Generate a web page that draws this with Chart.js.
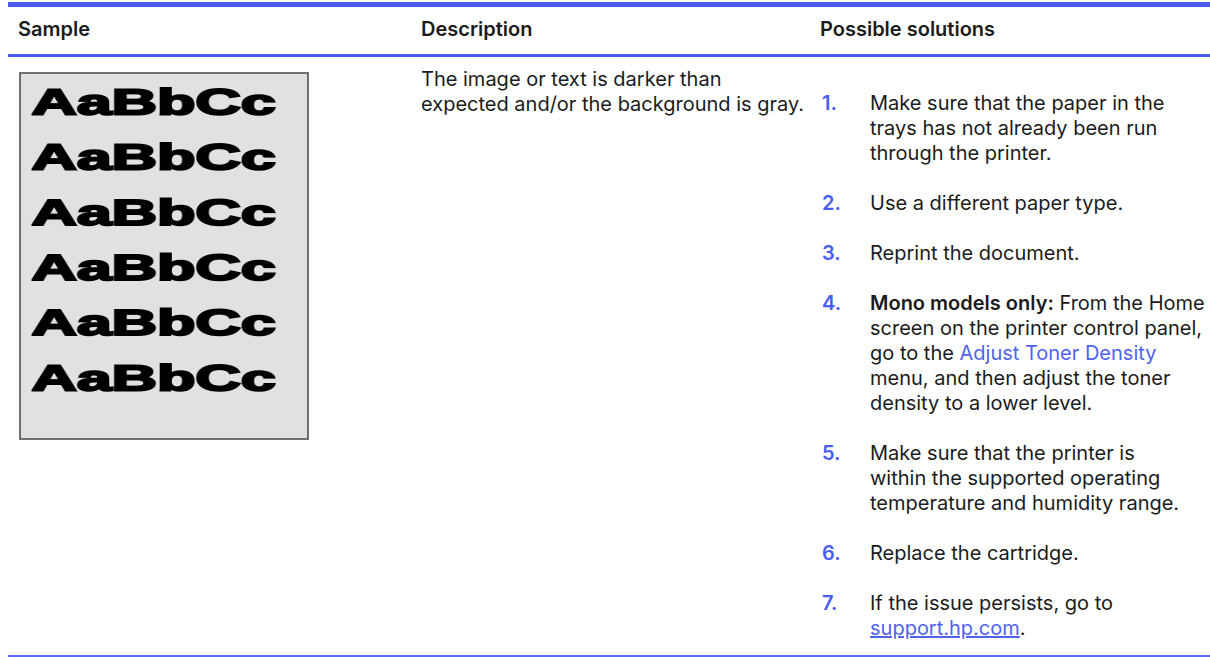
<!DOCTYPE html>
<html>
<head>
<meta charset="utf-8">
<title>Image is too dark</title>
<script src="https://cdn.jsdelivr.net/npm/chart.js@4/dist/chart.umd.min.js"></script>
<style>
  body {
    margin: 0;
    width: 1210px;
    height: 657px;
    position: relative;
    overflow: hidden;
    background: #fff;
    color: #1b1b1b;
    font-family: Inter, "Noto Sans", sans-serif;
  }
  .rule { position: absolute; left: 8px; right: 0; background: #4a5df2; }
  #ruleTop { top: 2px; height: 5px; }
  #ruleHead { top: 54px; height: 3px; }
  #ruleBottom { top: 655px; height: 2px; background: #5a6cf3; }

  .head { position: absolute; top: 15px; font-size: 20px; font-weight: 600; line-height: 28px; white-space: nowrap; }
  #head0 { left: 18px; }
  #head1 { left: 421px; }
  #head2 { left: 820px; }

  .txt { font-size: 20px; line-height: 25px; white-space: nowrap; }
  #desc { position: absolute; left: 421px; top: 67px; }
  #steps { position: absolute; left: 822px; top: 91px; margin: 0; padding: 0; list-style: none; }
  #steps li { position: relative; padding-left: 48px; margin-bottom: 25px; }
  #steps .n { position: absolute; left: 0; top: 0; color: #4a5df2; font-weight: 600; }
  #steps b { font-weight: 600; }
  a { color: #4f62f2; text-decoration: none; }
  a.u { text-decoration: underline; }

  #sample {
    position: absolute; left: 19px; top: 72px;
    width: 286px; height: 364px;
    border: 2px solid #6f6f6f;
    background: #e1e1e1;
  }
  /* the sample print is a very wide heavy face, so the chart is stretched sideways */
  #stretch { width: 164px; height: 364px; transform: scaleX(1.744); transform-origin: 0 0; }
</style>
</head>
<body>
<div class="rule" id="ruleTop"></div>
<div class="head" id="head0"></div>
<div class="head" id="head1"></div>
<div class="head" id="head2"></div>
<div class="rule" id="ruleHead"></div>

<div id="sample"><div id="stretch"><canvas id="sampleChart"></canvas></div></div>
<div id="desc" class="txt"></div>
<ol id="steps" class="txt"></ol>
<div class="rule" id="ruleBottom"></div>

<script>
const columns = ["Sample", "Description", "Possible solutions"];

// rows of the printed sample (category axis labels), no bars are drawn
const sampleLines = ["AaBbCc", "AaBbCc", "AaBbCc", "AaBbCc", "AaBbCc", "AaBbCc"];
const sampleInk = [0, 0, 0, 0, 0, 0];

const descriptionLines = [
  "The image or text is darker than",
  "expected and/or the background is gray."
];

const solutionSteps = [
  ["Make sure that the paper in the", "trays has not already been run", "through the printer."],
  ["Use a different paper type."],
  ["Reprint the document."],
  ["<b>Mono models only:</b> From the Home", "screen on the printer control panel,",
   "go to the <a>Adjust Toner Density</a>", "menu, and then adjust the toner", "density to a lower level."],
  ["Make sure that the printer is", "within the supported operating", "temperature and humidity range."],
  ["Replace the cartridge."],
  ["If the issue persists, go to", "<a class=\"u\">support.hp.com</a>."]
];

columns.forEach((c, i) => { document.getElementById("head" + i).textContent = c; });
document.getElementById("desc").innerHTML = descriptionLines.join("<br>");
document.getElementById("steps").innerHTML = solutionSteps
  .map((lines, i) => '<li><span class="n">' + (i + 1) + '.</span>' + lines.join("<br>") + "</li>")
  .join("");

new Chart(document.getElementById("sampleChart"), {
  type: "bar",
  data: {
    labels: sampleLines,
    datasets: [{ data: sampleInk, backgroundColor: "rgba(0,0,0,0)", borderWidth: 0 }]
  },
  options: {
    indexAxis: "y",
    responsive: true,
    maintainAspectRatio: false,
    animation: false,
    devicePixelRatio: 2,
    layout: { padding: { top: 3, bottom: 30, left: 6, right: 0 } },
    plugins: { legend: { display: false }, tooltip: { enabled: false } },
    scales: {
      x: { display: false, min: 0, max: 1 },
      y: {
        grid: { display: false },
        border: { display: false },
        afterFit: (scale) => { scale.width = 148; },
        ticks: {
          color: "#000",
          textStrokeColor: "#000",
          textStrokeWidth: 2,
          padding: 0,
          autoSkip: false,
          crossAlign: "far",
          font: { family: "'Liberation Sans', Arial, sans-serif", weight: "bold", size: 36, lineHeight: 0.1 }
        }
      }
    }
  }
});
</script>
</body>
</html>
